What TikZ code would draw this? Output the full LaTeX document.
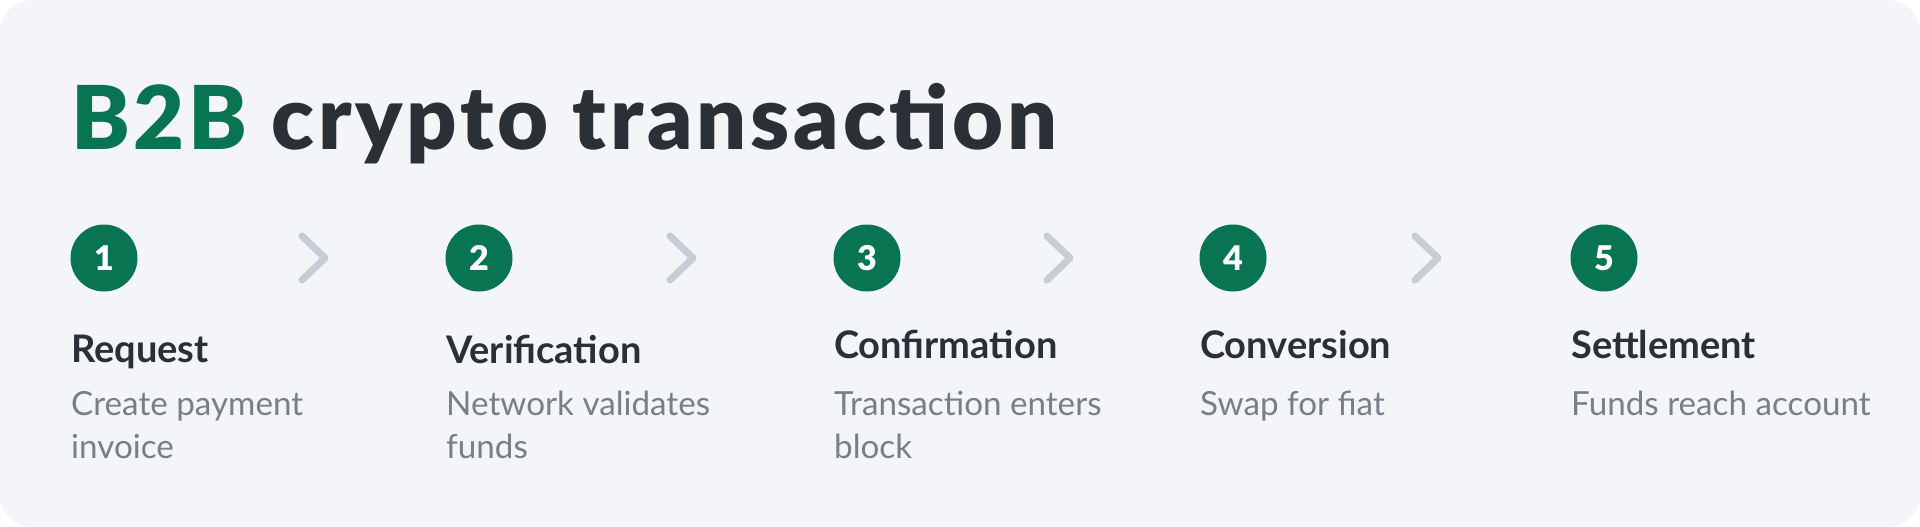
\documentclass[tikz,border=0pt]{standalone}
\usepackage{fontspec}
\setmainfont{Lato}
\IfFontExistsTF{Lato Black}{\newfontfamily\heavyfont{Lato Black}\newfontfamily\headfont{Lato Black}[LetterSpace=4.3]}{\newfontfamily\heavyfont{Lato}[FakeBold=3]\newfontfamily\headfont{Lato}[FakeBold=3,LetterSpace=4.3]}
\usepackage{xcolor}
\usepackage{tikz}
\usetikzlibrary{positioning,calc}
\definecolor{panelbg}{HTML}{F3F5F9}
\definecolor{brandgreen}{HTML}{087452}
\definecolor{inkdark}{HTML}{2A3035}
\definecolor{inkgray}{HTML}{7A7F86}
\definecolor{chevgray}{HTML}{C5CED5}

\begin{document}
\begin{tikzpicture}[x=1pt, y=-1pt,
    stepnum/.style={circle, fill=brandgreen, minimum size=67pt, inner sep=0pt, text=white, font=\heavyfont\fontsize{34}{34}\selectfont},
    steptitle/.style={anchor=base west, inner sep=0pt, text=inkdark, font=\bfseries\fontsize{38}{38}\selectfont},
    stepdesc/.style={anchor=base west, inner sep=0pt, align=left, text=inkgray, font=\fontsize{33.2}{43}\selectfont},
    chevron/.style={draw=chevgray, line width=7pt, line cap=round, line join=round}]
    % Panel
    \useasboundingbox (0,0) rectangle (1920,527);
    \fill[panelbg, rounded corners=32pt] (0,0) rectangle (1920,527);

    % Heading
    \node[anchor=base west, inner sep=0pt, text=inkdark, font=\headfont\fontsize{88}{88}\selectfont] (title) at (71,149) {\textcolor{brandgreen}{B2B} crypto transaction};

    % Steps (last field: baseline of the last line of the description)
    \foreach \i/\x/\ty/\head/\desc/\dy in {1/70/362/Request/{Create payment\\invoice}/458, 2/445/363/Verification/{Network validates\\funds}/458, 3/833/358/Confirmation/{Transaction enters\\block}/458, 4/1199/358/Conversion/{Swap for fiat}/415, 5/1570/358/Settlement/{Funds reach account}/415} {
        \node[stepnum] (num\i) at (\x+34,258) {\i};
        \node[steptitle] (head\i) at (\x+1,\ty) {\head};
        \node[stepdesc] (desc\i) at (\x+1,\dy) {\desc};
    }

    % Chevrons
    \foreach \cx in {325,693,1070,1438}
        \draw[chevron] (\cx-23,236) -- (\cx,258) -- (\cx-23,280);
\end{tikzpicture}
\end{document}
